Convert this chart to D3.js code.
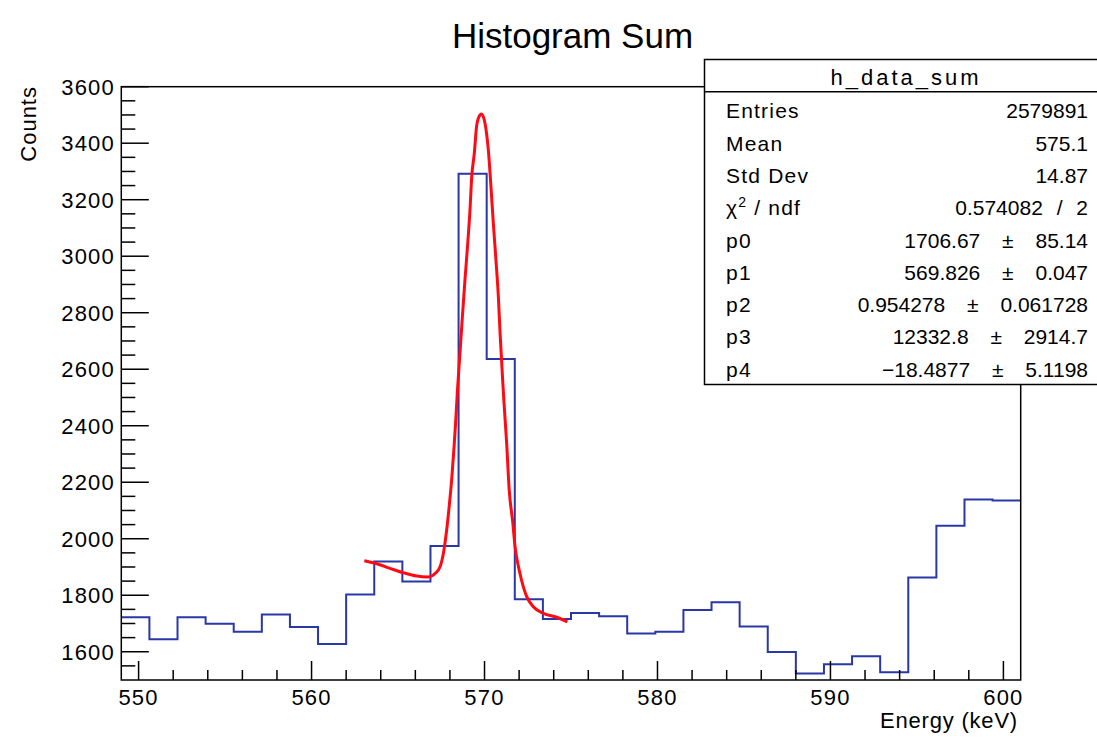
<!DOCTYPE html>
<html>
<head>
<meta charset="utf-8">
<script src="https://cdn.jsdelivr.net/npm/d3@7"></script>
<style>
    html, body { margin: 0; padding: 0; background: #ffffff; }
    svg text { font-family: "Liberation Sans", Arial, Helvetica, sans-serif; fill: #000; }
</style>
</head>
<body>
<div id="chart"></div>
<script>
// histogram bins (lower edges + last upper edge), keV
var binEdges = [549, 550.625, 552.25, 553.875, 555.5, 557.125, 558.75, 560.375, 562, 563.625,
    565.25, 566.875, 568.5, 570.125, 571.75, 573.375, 575, 576.625, 578.25, 579.875,
    581.5, 583.125, 584.75, 586.375, 588, 589.625, 591.25, 592.875, 594.5, 596.125,
    597.75, 599.375, 601];
var binCounts = [1722, 1644, 1722, 1699, 1671, 1732, 1688, 1627, 1803, 1919,
    1849, 1974, 3292, 2636, 1786, 1716, 1737, 1726, 1665, 1671,
    1748, 1775, 1689, 1599, 1523, 1556, 1584, 1527, 1863, 2046,
    2139, 2135];

// fit curve
var fitEnergy = [563.05, 563.67, 564.54, 565.30, 566.08, 566.75, 567.14, 567.43, 567.62, 567.81,
    567.95, 568.10, 568.24, 568.35, 568.43, 568.58, 568.72, 568.87, 569.03, 569.16,
    569.26, 569.41, 569.55, 569.74, 569.83, 570.03, 570.22, 570.36, 570.51, 570.66,
    570.80, 570.90, 571.05, 571.13, 571.28, 571.43, 571.63, 571.76, 572.05, 572.44,
    572.82, 573.40, 574.17, 574.79];
var fitCounts = [1922, 1913, 1895, 1880, 1868, 1865, 1877, 1901, 1948, 2030,
    2110, 2208, 2326, 2432, 2520, 2656, 2786, 2916, 3046, 3164,
    3281, 3364, 3464, 3500, 3503, 3470, 3376, 3258, 3116, 2987,
    2857, 2727, 2560, 2479, 2338, 2170, 2060, 1975, 1877, 1795,
    1759, 1736, 1722, 1706];

// axis ticks
var xMajor = [550, 560, 570, 580, 590, 600];
var xMinor = [552, 554, 556, 558, 562, 564, 566, 568, 572, 574, 576, 578, 582, 584, 586, 588, 592, 594, 596, 598];
var yMajor = [1600, 1800, 2000, 2200, 2400, 2600, 2800, 3000, 3200, 3400, 3600];
var yMinor = [1550, 1650, 1700, 1750, 1850, 1900, 1950, 2050, 2100, 2150, 2250, 2300, 2350,
    2450, 2500, 2550, 2650, 2700, 2750, 2850, 2900, 2950, 3050, 3100, 3150, 3250, 3300, 3350,
    3450, 3500, 3550];

// stats box
var statNames = ['Entries', 'Mean', 'Std Dev', 'chi2', 'p0', 'p1', 'p2', 'p3', 'p4'];
var statValues = ['2579891', '575.1', '14.87', '0.574082 / 2', '1706.67 \u00b1 85.14',
    '569.826 \u00b1 0.047', '0.954278 \u00b1 0.061728', '12332.8 \u00b1 2914.7', '\u221218.4877 \u00b1 5.1198'];

var _width = 1097;
var _height = 739;
var _left = 121.3, _right = 1020.7, _top = 86.7, _bottom = 680;

var svg = d3.select('#chart').append('svg')
    .attr('width', _width)
    .attr('height', _height);

svg.append('rect')
    .attr('width', _width)
    .attr('height', _height)
    .attr('fill', '#ffffff');

var x = d3.scaleLinear().domain([549, 601]).range([_left, _right]);
var y = d3.scaleLinear().domain([1500, 3600]).range([_bottom, _top]);

// title
svg.append('text')
    .attr('x', 572.5)
    .attr('y', 48)
    .attr('font-size', 35)
    .attr('text-anchor', 'middle')
    .text('Histogram Sum');

// histogram
var steps = binCounts.map(function (c, i) { return [binEdges[i], c]; });
steps.push([binEdges[binEdges.length - 1], binCounts[binCounts.length - 1]]);
var stepLine = d3.line()
    .x(function (d) { return x(d[0]); })
    .y(function (d) { return y(d[1]); })
    .curve(d3.curveStepAfter);

svg.append('path')
    .datum(steps)
    .attr('d', stepLine)
    .attr('fill', 'none')
    .attr('stroke', '#2a37a6')
    .attr('stroke-width', 2);

// fit
var fitLine = d3.line()
    .x(function (d) { return x(d[0]); })
    .y(function (d) { return y(d[1]); })
    .curve(d3.curveMonotoneX);

svg.append('path')
    .datum(fitEnergy.map(function (e, i) { return [e, fitCounts[i]]; }))
    .attr('d', fitLine)
    .attr('fill', 'none')
    .attr('stroke', '#ff0a14')
    .attr('stroke-width', 3)
    .attr('stroke-linejoin', 'round');

// frame
svg.append('rect')
    .attr('x', _left)
    .attr('y', _top)
    .attr('width', _right - _left)
    .attr('height', _bottom - _top)
    .attr('fill', 'none')
    .attr('stroke', '#000')
    .attr('stroke-width', 1.5);

// x ticks (pointing up, inside)
var gx = svg.append('g').attr('stroke', '#000').attr('stroke-width', 1.5);
xMajor.forEach(function (v) {
    gx.append('line').attr('x1', x(v)).attr('x2', x(v)).attr('y1', _bottom).attr('y2', _bottom - 19);
});
xMinor.forEach(function (v) {
    gx.append('line').attr('x1', x(v)).attr('x2', x(v)).attr('y1', _bottom).attr('y2', _bottom - 10);
});
svg.selectAll('.xlab').data(xMajor).enter().append('text')
    .attr('class', 'xlab')
    .attr('x', function (d) { return x(d); })
    .attr('y', 705)
    .attr('font-size', 22)
    .attr('letter-spacing', 1.2)
    .attr('text-anchor', 'middle')
    .text(function (d) { return d; });

// y ticks (pointing right, inside)
var gy = svg.append('g').attr('stroke', '#000').attr('stroke-width', 1.5);
yMajor.forEach(function (v) {
    gy.append('line').attr('x1', _left).attr('x2', _left + 27.5).attr('y1', y(v)).attr('y2', y(v));
});
yMinor.forEach(function (v) {
    gy.append('line').attr('x1', _left).attr('x2', _left + 14).attr('y1', y(v)).attr('y2', y(v));
});
svg.selectAll('.ylab').data(yMajor).enter().append('text')
    .attr('class', 'ylab')
    .attr('x', 115)
    .attr('y', function (d) { return y(d) + 8; })
    .attr('font-size', 22)
    .attr('letter-spacing', 1.2)
    .attr('text-anchor', 'end')
    .text(function (d) { return d; });

// axis titles
svg.append('text')
    .attr('x', 1018)
    .attr('y', 728)
    .attr('font-size', 22)
    .attr('letter-spacing', 0.8)
    .attr('text-anchor', 'end')
    .text('Energy (keV)');

svg.append('text')
    .attr('transform', 'translate(36,86)rotate(-90)')
    .attr('font-size', 22)
    .attr('letter-spacing', 1)
    .attr('text-anchor', 'end')
    .text('Counts');

// stats box
var box = svg.append('g');
box.append('rect')
    .attr('x', 704.5)
    .attr('y', 59.5)
    .attr('width', 410)
    .attr('height', 325)
    .attr('fill', '#ffffff')
    .attr('stroke', '#000')
    .attr('stroke-width', 1.5);
box.append('line')
    .attr('x1', 704.5).attr('x2', 1110)
    .attr('y1', 91.7).attr('y2', 91.7)
    .attr('stroke', '#000')
    .attr('stroke-width', 1.5);
box.append('text')
    .attr('x', 906)
    .attr('y', 85)
    .attr('font-size', 22)
    .attr('letter-spacing', 3)
    .attr('text-anchor', 'middle')
    .text('h_data_sum');

statNames.forEach(function (name, i) {
    var _y = 118.3 + i * 32.3;
    var t = box.append('text')
        .attr('x', 726)
        .attr('y', _y)
        .attr('font-size', 21)
        .attr('letter-spacing', 1.2);
    if (name === 'chi2') {
        t.append('tspan').text('\u03c7');
        t.append('tspan').attr('dy', -8).attr('font-size', 14).text('2');
        t.append('tspan').attr('dy', 8).text(' / ndf');
    } else {
        t.text(name);
    }
    var _v = statValues[i];
    box.append('text')
        .attr('x', 1088)
        .attr('y', _y)
        .attr('font-size', 21)
        .attr('word-spacing', _v.indexOf('\u00b1') >= 0 ? 16 : 8)
        .attr('text-anchor', 'end')
        .text(_v);
});
</script>
</body>
</html>
